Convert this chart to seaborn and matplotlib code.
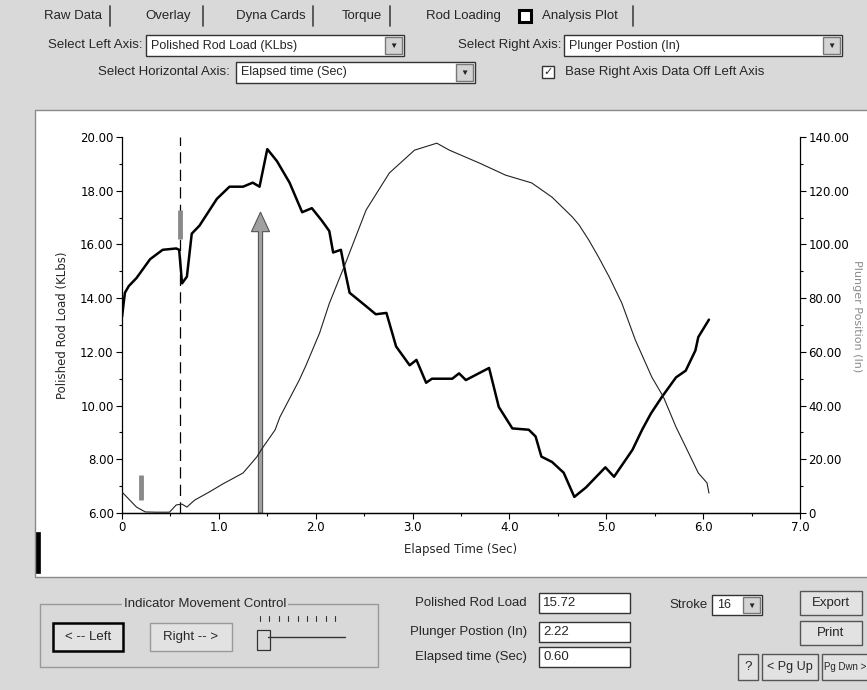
import numpy as np
import pandas as pd
import matplotlib
matplotlib.use("Agg")
import matplotlib.pyplot as plt
import seaborn as sns
from matplotlib.patches import Rectangle, Polygon
from matplotlib.lines import Line2D

# ---------------- data ----------------
load_time = [0, 0.03, 0.07, 0.15, 0.29, 0.42, 0.56, 0.59, 0.62, 0.67, 0.72, 0.8, 0.98,
             1.11, 1.25, 1.35, 1.42, 1.5, 1.6, 1.73, 1.86, 1.96, 2.06, 2.14, 2.18, 2.26,
             2.3, 2.35, 2.52, 2.62, 2.73, 2.83, 2.97, 3.04, 3.14, 3.2, 3.41, 3.48, 3.55,
             3.79, 3.89, 4.03, 4.2, 4.27, 4.33, 4.44, 4.56, 4.67, 4.79, 4.99, 5.08, 5.27,
             5.37, 5.46, 5.57, 5.72, 5.82, 5.92, 5.95, 6.06]
load_klbs = [13.3, 14.2, 14.45, 14.75, 15.45, 15.8, 15.85, 15.8, 14.55, 14.8, 16.4, 16.7, 17.7,
             18.15, 18.15, 18.3, 18.15, 19.55, 19.1, 18.3, 17.2, 17.35, 16.9, 16.5, 15.7, 15.8,
             15.05, 14.2, 13.7, 13.4, 13.45, 12.2, 11.5, 11.7, 10.85, 11.0, 11.0, 11.2, 10.95,
             11.4, 9.95, 9.15, 9.1, 8.85, 8.1, 7.9, 7.5, 6.6, 6.95, 7.7, 7.35, 8.35,
             9.1, 9.7, 10.3, 11.05, 11.3, 12.05, 12.55, 13.2]

plunger_time = [0, 0.15, 0.24, 0.35, 0.49, 0.56, 0.62, 0.67, 0.75, 0.9, 1.04, 1.25, 1.39,
                1.45, 1.58, 1.63, 1.83, 1.9, 2.04, 2.14, 2.3, 2.52, 2.76, 3.02, 3.25, 3.38,
                3.69, 3.96, 4.23, 4.44, 4.65, 4.72, 4.82, 4.92, 5.03, 5.16, 5.3, 5.47, 5.59,
                5.72, 5.82, 5.95, 6.04, 6.06]
plunger_in = [7.8, 2.2, 0.4, 0.3, 0.3, 3.0, 3.3, 2.2, 4.8, 7.8, 10.8, 14.9, 20.8,
              24.2, 30.9, 35.7, 49.5, 55.0, 67.0, 78.0, 92.3, 112.8, 126.6, 135.1, 137.7, 135.1,
              130.3, 125.8, 122.9, 117.6, 110.2, 107.2, 101.6, 95.3, 87.9, 78.2, 64.4, 50.6, 43.2,
              32.0, 24.6, 14.9, 11.2, 7.4]

x_ticks = [0, 1, 2, 3, 4, 5, 6, 7]
x_tick_labels = ["0", "1.0", "2.0", "3.0", "4.0", "5.0", "6.0", "7.0"]
left_ticks = [6, 8, 10, 12, 14, 16, 18, 20]
right_ticks = [0, 20, 40, 60, 80, 100, 120, 140]

cursor_time = 0.6
arrow_time = 1.43
arrow_top = 17.2

load_df = pd.DataFrame({"Elapsed Time (Sec)": load_time, "Polished Rod Load (KLbs)": load_klbs})
plunger_df = pd.DataFrame({"Elapsed Time (Sec)": plunger_time, "Plunger Position (In)": plunger_in})

# ---------------- figure ----------------
sns.set_theme(style="ticks")
plt.rcParams["font.family"] = ["DejaVu Sans"]

W, H = 867, 690
BG = "#d9d9d9"
fig = plt.figure(figsize=(W / 100, H / 100), dpi=100, facecolor=BG)

UIF = ["Liberation Sans", "DejaVu Sans"]


def T(x, y, s, ha="left", size=9.5, **kw):
    fig.text(x / W, 1 - y / H, s, ha=ha, va="center", fontsize=size, family=UIF, **kw)


def R(x0, y0, x1, y1, fc="none", ec="#555555", lw=1.0, z=1):
    fig.add_artist(Rectangle((x0 / W, 1 - y1 / H), (x1 - x0) / W, (y1 - y0) / H,
                             transform=fig.transFigure, facecolor=fc, edgecolor=ec,
                             lw=lw, zorder=z))


def L(xs, ys, **kw):
    fig.add_artist(Line2D([x / W for x in xs], [1 - y / H for y in ys],
                          transform=fig.transFigure, **kw))


def combo(x0, y0, x1, y1, text, size=9):
    R(x0, y0, x1, y1, fc="white", ec="#333333")
    R(x1 - 19, y0 + 2, x1 - 2, y1 - 2, fc="#d4d4d4", ec="#777777")
    T(x1 - 10.5, (y0 + y1) / 2 + 1, "\u25BC", ha="center", size=6)
    T(x0 + 5, (y0 + y1) / 2, text, size=size)


def button(x0, y0, x1, y1, text, ec="#555555", lw=1.0, size=9.5):
    R(x0, y0, x1, y1, fc="#e2e2e2", ec=ec, lw=lw)
    T((x0 + x1) / 2, (y0 + y1) / 2, text, ha="center", size=size)


# white chart panel
R(35, 110, 869, 577, fc="white", ec="#8a8a8a", lw=1.0, z=-10)
R(36, 532, 40, 573, fc="black", ec="black", lw=0.5)

# ---------------- chart ----------------
ax = fig.add_axes([122 / W, 1 - 513 / H, 678 / W, 376 / H])
ax.set_facecolor("white")
sns.lineplot(data=load_df, x="Elapsed Time (Sec)", y="Polished Rod Load (KLbs)", ax=ax,
             color="black", lw=1.8, errorbar=None, sort=False)
ax2 = ax.twinx()
sns.lineplot(data=plunger_df, x="Elapsed Time (Sec)", y="Plunger Position (In)", ax=ax2,
             color="#222222", lw=0.8, errorbar=None, sort=False)

ax.set_xlim(0, 7)
ax.set_ylim(6, 20)
ax2.set_ylim(0, 140)

ax.axvline(cursor_time, color="black", lw=0.9, dashes=(9, 5))
ax.vlines([cursor_time], 16.2, 17.3, color="#8a8a8a", lw=3.5)
ax.vlines([0.2], 6.5, 7.4, color="#8a8a8a", lw=3.5)
ax.annotate("", xy=(arrow_time, arrow_top), xytext=(arrow_time, 6.0),
            arrowprops=dict(width=3, headwidth=13, headlength=14,
                            facecolor="#a0a0a0", edgecolor="#555555", lw=0.8, shrink=0))

ax.set_xticks(x_ticks)
ax.set_xticklabels(x_tick_labels)
ax.set_xticks(np.arange(0.5, 7, 1.0), minor=True)
ax.set_yticks(left_ticks)
ax.set_yticklabels([f"{v:.2f}" for v in left_ticks])
ax.set_yticks(np.arange(7, 20, 2), minor=True)
ax2.set_yticks(right_ticks)
ax2.set_yticklabels(["0"] + [f"{v:.2f}" for v in right_ticks[1:]])
ax2.set_yticks(np.arange(10, 140, 20), minor=True)

for a in (ax, ax2):
    a.tick_params(which="major", direction="out", length=4, width=0.8, labelsize=8.5,
                  pad=2, color="black", labelcolor="black")
    a.tick_params(which="minor", direction="out", length=2.5, width=0.8, color="black")
    a.spines["top"].set_visible(False)
    for s in a.spines.values():
        s.set_linewidth(0.9)
        s.set_color("black")
ax.spines["right"].set_visible(False)
ax2.spines["left"].set_visible(False)
ax2.patch.set_visible(False)

ax.set_xlabel("Elapsed Time (Sec)", fontsize=8.5, labelpad=6)
ax.set_ylabel("Polished Rod Load (KLbs)", fontsize=8.5, labelpad=8)
ax2.set_ylabel("")
fig.text(857 / W, 1 - 316 / H, "Plunger Position (In)", rotation=270, ha="center",
         va="center", fontsize=8, color="#8a8a8a")

# ---------------- top UI ----------------
tabs = [("Raw Data", 44, 110), ("Overlay", 145, 203), ("Dyna Cards", 236, 313),
        ("Torque", 342, 390)]
for name, x, sep in tabs:
    T(x, 16, name)
    L([sep, sep], [6, 26], color="#444444", lw=1.2)
T(426, 16, "Rod Loading")
R(519, 10, 531, 22, fc="white", ec="black", lw=2.2)
T(542, 16, "Analysis Plot")
L([633, 633], [6, 26], color="#444444", lw=1.2)

T(142, 45, "Select Left Axis:", ha="right")
combo(146, 35, 404, 56, "Polished Rod Load (KLbs)")
T(561, 45, "Select Right Axis:", ha="right")
combo(564, 35, 842, 56, "Plunger Postion (In)")
T(230, 72, "Select Horizontal Axis:", ha="right")
combo(236, 62, 475, 83, "Elapsed time (Sec)")
R(542, 66, 554, 78, fc="white", ec="#333333")
T(548, 72, "\u2713", ha="center", size=8, fontweight="bold")
T(565, 72, "Base Right Axis Data Off Left Axis")

# ---------------- bottom UI ----------------
R(40, 604, 378, 667, ec="#9a9a9a")
fig.text(205 / W, 1 - 604 / H, "Indicator Movement Control", ha="center", va="center",
         fontsize=9.5, family=UIF, bbox=dict(fc=BG, ec="none", pad=1))
button(53, 623, 123, 651, "< -- Left", ec="black", lw=1.8)
button(150, 623, 232, 651, "Right -- >", ec="#9a9a9a")
for xx in np.linspace(260, 335, 9):
    L([xx, xx], [616, 621], color="#333333", lw=0.8)
L([268, 345], [637, 637], color="#333333", lw=1.0)
fig.add_artist(Polygon([(257 / W, 1 - 630 / H), (270 / W, 1 - 630 / H), (270 / W, 1 - 650 / H),
                        (257 / W, 1 - 650 / H)], closed=True, transform=fig.transFigure,
                       facecolor=BG, edgecolor="#333333", lw=0.9))

for label, val, yy in [("Polished Rod Load", "15.72", 603),
                       ("Plunger Postion (In)", "2.22", 632),
                       ("Elapsed time (Sec)", "0.60", 657)]:
    T(527, yy, label, ha="right")
    R(539, yy - 10, 630, yy + 10, fc="white", ec="#333333")
    T(543, yy, val)

T(708, 605, "Stroke", ha="right")
combo(712, 595, 762, 615, "16")
button(800, 591, 862, 615, "Export")
button(800, 621, 862, 645, "Print")
button(738, 654, 758, 680, "?")
button(762, 654, 818, 680, "< Pg Up", size=9)
R(822, 654, 872, 680, fc="#e2e2e2", ec="#555555")
T(824, 667, "Pg Dwn >", size=7)

fig.savefig("out.png", dpi=100, facecolor=BG)
